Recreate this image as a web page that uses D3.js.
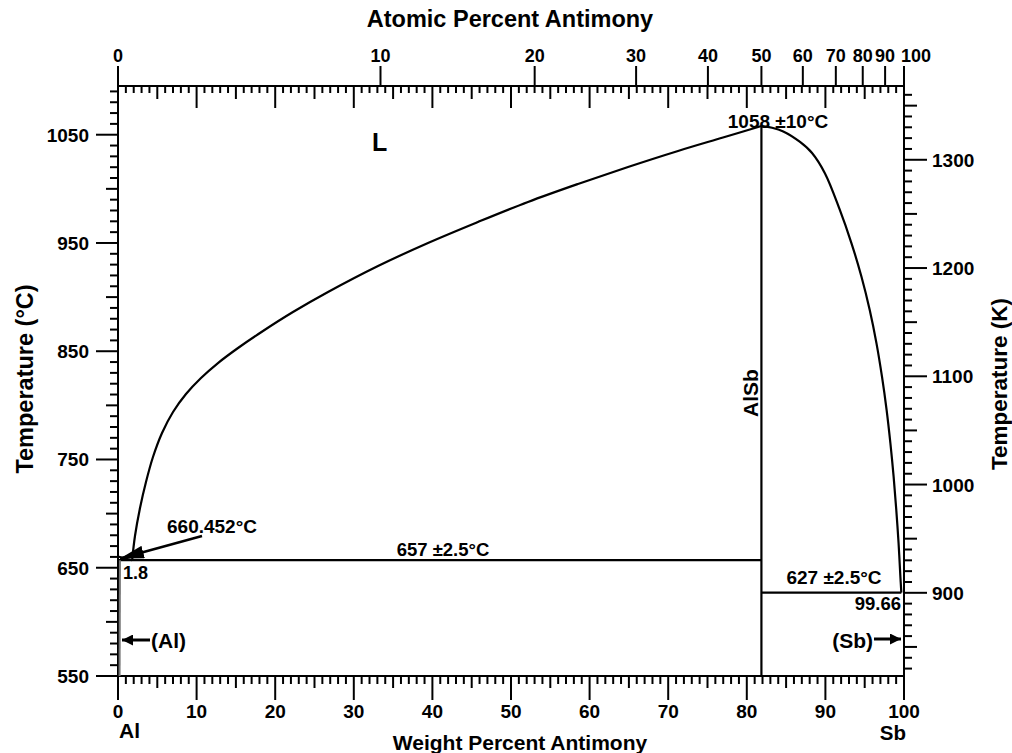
<!DOCTYPE html>
<html><head><meta charset="utf-8">
<script src="https://cdn.jsdelivr.net/npm/d3@7"></script>
<style>
body{margin:0;background:#fff}
text{font-family:"Liberation Sans",Arial,sans-serif;font-weight:bold;fill:#000}
</style>
</head><body>
<svg id="chart" width="1012" height="753"></svg>
<script>
// Al–Sb phase diagram (weight percent antimony vs temperature)
const wtTickLabels = [0,10,20,30,40,50,60,70,80,90,100];
const atTickLabels = [0,10,20,30,40,50,60,70,80,90,100];
const celsiusTickLabels = [550,650,750,850,950,1050];
const kelvinTickLabels = [900,1000,1100,1200,1300];

// liquidus, Al side up to the AlSb congruent maximum  [wt% Sb, °C]
const liquidusAl = [[1.8,657],[2.16,679.3],[2.8,705.2],[3.56,729.2],[4.45,752.3],[5.6,774.5],
  [7.0,793.9],[8.65,810.5],[10.56,825.3],[12.72,839.1],[15.27,853],[18.45,868.7],[22.26,886.2],
  [26.72,904.7],[33.08,928.7],[39.44,950],[45.8,969.4],[52.16,987.9],[58.52,1004.5],[64.89,1020.2],
  [71.25,1035],[76.97,1047.4],[81.86,1058]];
// liquidus, AlSb maximum down to the Sb-side eutectic
const liquidusSb = [[81.86,1058],[83.21,1056.4],[84.64,1053],[86.77,1043.3],[88.3,1033.1],[89.95,1014.2],
  [91.79,981.4],[93.32,949.7],[94.59,918.8],[95.64,888.1],[96.5,857.3],[97.2,826.5],[97.79,795.7],
  [98.27,765],[98.68,734.1],[99.02,703.3],[99.31,672.6],[99.54,641.7],[99.66,627]];
const compoundAlSb = 81.86;        // wt% Sb in AlSb
const eutecticAl = [1.8, 657];
const eutecticSb = [99.66, 627];
const alMelt = [0, 660.452];
const alSolvus = [[0.25,657],[0.2,550]];

const Tmin = 550, Tmax = 1095;
const svg = d3.select("#chart");
const x = d3.scaleLinear([0,100],[118,904]);
const y = d3.scaleLinear([Tmin,Tmax],[676,86]);
const yK = d3.scaleLinear([Tmin+273.15,Tmax+273.15],[676,86]);
const atToWt = a => 100*a*121.76/(a*121.76+(100-a)*26.9815);

const L = (x1,y1,x2,y2,w=2,c="#000") => svg.append("line")
  .attr("x1",x1).attr("y1",y1).attr("x2",x2).attr("y2",y2)
  .attr("stroke",c).attr("stroke-width",w);
const T = (tx,ty,s,size,anchor="middle",rot=0) => {
  const t = svg.append("text").attr("font-size",size).attr("text-anchor",anchor).text(s);
  if (rot) t.attr("transform",`translate(${tx},${ty}) rotate(${rot})`);
  else t.attr("x",tx).attr("y",ty);
  return t;
};

const [x0,x1] = x.range(), yb = y(Tmin), yt = y(Tmax);

// bottom wt% ticks (outward) and top wt% ticks (inward)
d3.range(0,101,1).forEach(v=>{
  const len = v%10===0 ? 24 : v%5===0 ? 12 : 8;
  L(x(v),yb,x(v),yb+len,2);
  const lenT = v%10===0 ? 22 : v%5===0 ? 13 : 7;
  if (v>0 && v<100) L(x(v),yt,x(v),yt+lenT,2);
});
wtTickLabels.forEach(v=>T(x(v),718,String(v),19));

// top atomic-percent ticks
atTickLabels.forEach(a=>{
  const px = x(atToWt(a));
  L(px,yt,px,yt-20,2);
  if (a===100) T(px-3,62,String(a),18,"start");
  else T(px,62,String(a),18);
});

// left °C ticks
d3.range(550,Tmax,10).forEach(v=>{
  const len = (v-550)%100===0 ? 22 : (v-550)%50===0 ? 12 : 8;
  L(x0-len,y(v),x0,y(v),2);
});
celsiusTickLabels.forEach(v=>T(89,y(v)+7,String(v),19,"end"));

// right K ticks
d3.range(830,Tmax+273.15,10).forEach(v=>{
  const len = v%100===0 ? 23 : v%50===0 ? 13 : 8;
  L(x1,yK(v),x1+len,yK(v),2);
});
kelvinTickLabels.forEach(v=>T(932,yK(v)+7,String(v),19,"start"));

// frame
svg.append("rect").attr("x",x0).attr("y",yt).attr("width",x1-x0).attr("height",yb-yt)
  .attr("fill","none").attr("stroke","#000").attr("stroke-width",2);

// phase boundaries
const curve = d3.line().x(d=>x(d[0])).y(d=>y(d[1])).curve(d3.curveCatmullRom.alpha(0.5));
svg.append("path").attr("d",curve(liquidusAl)).attr("fill","none").attr("stroke","#000").attr("stroke-width",2.2);
svg.append("path").attr("d",curve(liquidusSb)).attr("fill","none").attr("stroke","#000").attr("stroke-width",2.2);
L(x(alMelt[0]),y(alMelt[1]),x(eutecticAl[0]),y(eutecticAl[1]),2);
L(x(compoundAlSb),y(1058),x(compoundAlSb),yb,2.2);
L(x(0),y(eutecticAl[1]),x(compoundAlSb),y(eutecticAl[1]),2.2);
L(x(compoundAlSb),y(eutecticSb[1]),x(eutecticSb[0]),y(eutecticSb[1]),2.2);
L(x(alSolvus[0][0]),y(alSolvus[0][1]),x(alSolvus[1][0]),y(alSolvus[1][1]),2,"#777");

// arrow markers
const defs = svg.append("defs");
defs.append("marker").attr("id","ah").attr("viewBox","0 0 10 10").attr("refX",10).attr("refY",5)
  .attr("markerWidth",11).attr("markerHeight",11).attr("markerUnits","userSpaceOnUse").attr("orient","auto")
  .append("path").attr("d","M0,0L10,5L0,10Z").attr("fill","#000");
defs.append("marker").attr("id","ahBig").attr("viewBox","0 0 10 10").attr("refX",10).attr("refY",5)
  .attr("markerWidth",24).attr("markerHeight",13).attr("markerUnits","userSpaceOnUse").attr("orient","auto")
  .attr("preserveAspectRatio","none")
  .append("path").attr("d","M0,0L10,5L0,10Z").attr("fill","#000");

// Al melting point arrow
L(202,536,x(alMelt[0])+2,y(alMelt[1])+2,2.5).attr("marker-end","url(#ahBig)");
// (Al) and (Sb) pointers
L(150,640,122,640,3).attr("marker-end","url(#ah)");
L(874,639,901,639,3).attr("marker-end","url(#ah)");

// labels
T(372,151,"L",25,"start");
T(778,128,"1058 ±10°C",19);
T(167,533,"660.452°C",19,"start");
T(123,579,"1.8",18,"start");
T(443,556,"657 ±2.5°C",18.5);
T(834,584,"627 ±2.5°C",19);
T(901,610,"99.66",18.5,"end");
T(151,648,"(Al)",21,"start");
T(873,648,"(Sb)",21,"end");
T(758,393,"AlSb",21,"middle",-90);
T(119,738,"Al",21,"start");
T(906,740,"Sb",20.5,"end");

// axis titles
T(520,750,"Weight Percent Antimony",21);
T(510,27,"Atomic Percent Antimony",23.5);
T(33,379,"Temperature (°C)",23.5,"middle",-90);
T(1007,384,"Temperature (K)",22.5,"middle",-90);
</script>
</body></html>
